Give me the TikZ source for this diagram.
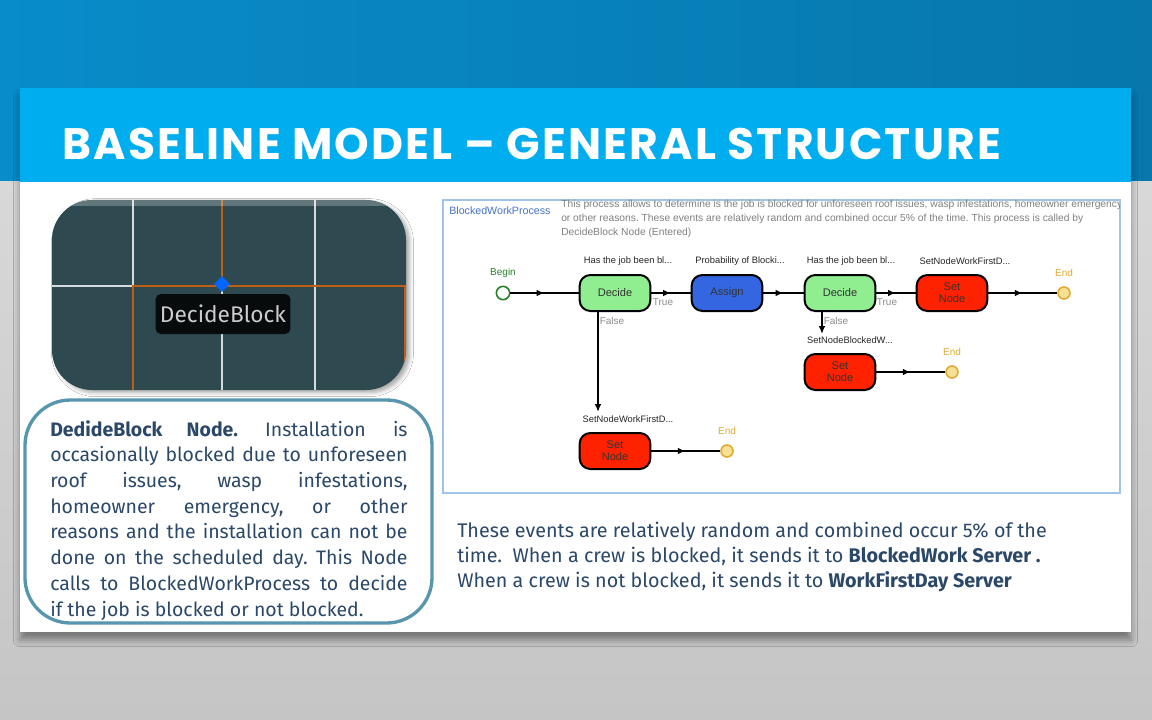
\documentclass[tikz,border=0pt]{standalone}
\usepackage{fontspec}
\setmainfont{Fira Sans}
\newfontfamily\titlefont{Poppins}[LetterSpace=5]
\newfontfamily\simfont{Liberation Sans}
\usetikzlibrary{positioning,shadows.blur,decorations.markings,arrows.meta,shapes}

\definecolor{topblue}{RGB}{8,140,202}
\definecolor{barblue}{RGB}{0,174,239}
\definecolor{panelgrey}{RGB}{214,214,214}
\definecolor{textblue}{RGB}{43,72,104}
\definecolor{frameteal}{RGB}{88,150,175}
\definecolor{imgteal}{RGB}{46,74,80}
\definecolor{gridorange}{RGB}{190,95,20}
\definecolor{decidegreen}{RGB}{144,238,144}
\definecolor{assignblue}{RGB}{51,102,224}
\definecolor{setred}{RGB}{255,34,0}
\definecolor{endfill}{RGB}{246,224,150}
\definecolor{endline}{RGB}{224,172,50}
\definecolor{begingreen}{RGB}{40,130,40}
\definecolor{procblue}{RGB}{68,114,196}
\definecolor{borderblue}{RGB}{160,196,230}

\tikzset{
  stepbox/.style={draw=black, line width=1.5pt, rounded corners=8pt,
    minimum width=53pt, minimum height=27pt, align=center,
    font=\simfont\fontsize{8.3}{9}\selectfont, text=black!80},
  stepname/.style={font=\simfont\fontsize{7}{8}\selectfont, text=black!85, inner sep=0pt},
  greylbl/.style={font=\simfont\fontsize{7.5}{8}\selectfont, text=black!45, inner sep=0pt},
  endpt/.style={circle, draw=endline, fill=endfill, line width=1.2pt, minimum size=9pt, inner sep=0pt},
  flow/.style={line width=1.2pt, decoration={markings,
    mark=at position 0.5 with {\arrow{Latex[length=6pt,width=5pt]}}}, postaction={decorate}},
  downflow/.style={line width=1.2pt, -{Latex[length=6pt,width=5pt]}},
}

\begin{document}
\frenchspacing
\begin{tikzpicture}[x=0.75pt,y=0.75pt,yscale=-1]
\useasboundingbox (0,0) rectangle (1152,720);

% background
\shade[left color=topblue, right color=topblue!85!black] (0,0) rectangle (1152,182);
\shade[top color=panelgrey!95!white, bottom color=panelgrey!92!black] (0,182) rectangle (1152,720);

% slide card
\fill[white, blur shadow={shadow xshift=0pt, shadow yshift=-6pt, shadow blur radius=5pt, shadow opacity=40}] (20,88) rectangle (1131,632);
\fill[barblue] (20,88) rectangle (1131,182);
\node[anchor=base west, inner sep=0pt, text=white, font=\titlefont\bfseries\fontsize{33}{40}\selectfont] (title) at (62,160) {BASELINE MODEL – GENERAL STRUCTURE};

% node picture
\begin{scope}
\fill[imgteal, rounded corners=30pt, blur shadow={shadow blur radius=3pt, shadow opacity=35, shadow yshift=-2pt}] (52,200) rectangle (406,390);
\clip[rounded corners=30pt] (52,200) rectangle (406,390);
\draw[white!80!imgteal, line width=1pt] (52,286) -- (133,286) -- (133,200);
\draw[white!80!imgteal, line width=1pt] (315,200) -- (315,390);
\draw[white!80!imgteal, line width=1pt] (222,290) -- (222,390);
\draw[gridorange, line width=1pt] (222,200) -- (222,286);
\draw[gridorange, line width=1pt] (133,390) -- (133,286) -- (406,286);
\draw[gridorange, line width=1pt] (405,286) -- (405,390);
\fill[white, opacity=0.25] (52,200) rectangle (406,206);
\end{scope}
\node[diamond, fill=blue!60!cyan, minimum size=12pt, inner sep=0pt] (pin) at (222,284) {};
\node[fill=black!85!imgteal, rounded corners=4pt, text=black!20, font=\fontsize{17}{19}\selectfont,
  minimum width=101pt, minimum height=30pt] (decideblock) at (223,314) {DecideBlock};

% text box left
\draw[frameteal, line width=2.5pt, rounded corners=34pt] (25,400) rectangle (432,623);
\node[anchor=north west, inner sep=0pt, text width=268pt, align=justify, text=textblue,
  font=\fontsize{14.6}{19.3}\selectfont] (nodetext) at (50,420)
  {\textbf{DedideBlock Node.} Installation is\linebreak
   occasionally blocked due to unforeseen\linebreak
   roof issues, wasp infestations,\linebreak
   homeowner emergency, or other\linebreak
   reasons and the installation can not be\linebreak
   done on the scheduled day. This Node\linebreak
   calls to BlockedWorkProcess to decide\linebreak
   if the job is blocked or not blocked.};

% process panel
\draw[borderblue, line width=0.8pt] (443,200) rectangle (1120,493);
\node[anchor=north west, inner sep=0pt, text=procblue, font=\simfont\fontsize{8}{9}\selectfont] (procname) at (449,207) {BlockedWorkProcess};
\begin{scope}
\clip (560,198) rectangle (1119,245);
\node[anchor=north west, inner sep=0pt, text=black!50, align=left, font=\simfont\fontsize{7.7}{10.6}\selectfont] (procdesc) at (561,200)
  {This process allows to determine is the job is blocked for unforeseen roof issues, wasp infestations, homeowner emergency,\\
   or other reasons. These events are relatively random and combined occur 5\% of the time. This process is called by\\
   DecideBlock Node (Entered)};
\end{scope}

% steps
\node[circle, draw=begingreen, fill=white, line width=1.2pt, minimum size=10pt, inner sep=0pt] (begin) at (503,293) {};
\node[text=begingreen, font=\simfont\fontsize{7.5}{8}\selectfont, inner sep=0pt] (beginlbl) at (503,273) {Begin};
\node[stepbox, fill=decidegreen] (decide1) at (615,293) {Decide};
\node[stepbox, fill=assignblue] (assign) at (727,293) {Assign};
\node[stepbox, fill=decidegreen] (decide2) at (840,293) {Decide};
\node[stepbox, fill=setred] (set1) at (952,293) {Set\\Node};
\node[endpt] (end1) at (1064,293) {};
\node[stepbox, fill=setred] (set2) at (840,372) {Set\\Node};
\node[endpt] (end2) at (952,372) {};
\node[stepbox, fill=setred] (set3) at (615,451) {Set\\Node};
\node[endpt] (end3) at (727,451) {};

% step names
\node[stepname] at (628,261) {Has the job been bl...};
\node[stepname] at (740,261) {Probability of Blocki...};
\node[stepname] at (851,261) {Has the job been bl...};
\node[stepname] at (965,261) {SetNodeWorkFirstD...};
\node[stepname] at (850,340) {SetNodeBlockedW...};
\node[stepname] at (628,419) {SetNodeWorkFirstD...};
\foreach \e in {end1,end2,end3}
  \node[text=endline, font=\simfont\fontsize{7.5}{8}\selectfont, inner sep=0pt] at ([yshift=-15]\e) {End};

% connectors
\draw[flow] (begin) -- (decide1);
\draw[flow] (decide1) -- (assign);
\draw[flow] (assign) -- (decide2);
\draw[flow] (decide2) -- (set1);
\draw[flow] (set1) -- (end1);
\draw[flow] (set2) -- (end2);
\draw[flow] (set3) -- (end3);
\coordinate (f1) at (598,412);
\coordinate (f2) at (822,334);
\draw[downflow] (decide1.south west -| f1) -- (f1);
\draw[downflow] (decide2.south west -| f2) -- (f2);
\node[greylbl] at (663,302) {True};
\node[greylbl] at (887,302) {True};
\node[greylbl] at (612,321) {False};
\node[greylbl] at (836,321) {False};

% bottom text
\node[anchor=north west, inner sep=0pt, align=left, text=textblue, font=\fontsize{14.8}{18.8}\selectfont] (note) at (457,522)
  {These events are relatively random and combined occur 5\% of the\\
   time.\ \ When a crew is blocked, it sends it to \textbf{BlockedWork Server .}\\
   When a crew is not blocked, it sends it to \textbf{WorkFirstDay Server}};
\end{tikzpicture}
\end{document}
